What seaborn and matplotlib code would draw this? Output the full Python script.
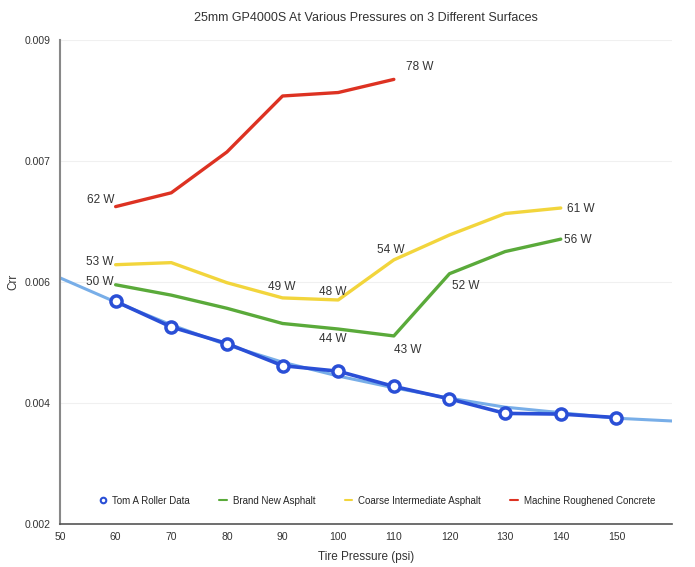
import pandas as pd
import matplotlib.pyplot as plt
import seaborn as sns
from matplotlib.lines import Line2D

# data
psi_roller = [60, 70, 80, 90, 100, 110, 120, 130, 140, 150]
crr_roller = [0.00522, 0.00485, 0.00461, 0.00429, 0.00421, 0.00399, 0.00381, 0.00360, 0.00359, 0.00354]

psi_trend = [50, 60, 70, 80, 90, 100, 110, 120, 130, 140, 150, 160]
crr_trend = [0.00556, 0.00521, 0.00488, 0.00459, 0.00434, 0.00414, 0.00397, 0.00382, 0.00369, 0.00361, 0.00353, 0.00349]

psi_road = [60, 70, 80, 90, 100, 110, 120, 130, 140]
crr_new = [0.00546, 0.00531, 0.00512, 0.00490, 0.00482, 0.00472, 0.00562, 0.00594, 0.00612]
crr_coarse = [0.00575, 0.00578, 0.00549, 0.00527, 0.00524, 0.00582, 0.00618, 0.00649, 0.00657]

psi_concrete = [60, 70, 80, 90, 100, 110]
crr_concrete = [0.00659, 0.00679, 0.00738, 0.00819, 0.00824, 0.00843]

# watt labels (text, x, y)
watt_labels = ["62 W", "78 W", "53 W", "50 W", "49 W", "48 W", "44 W", "43 W", "54 W", "52 W", "61 W", "56 W"]
watt_x = [57.4, 114.6, 57.2, 57.2, 89.9, 99.0, 99.0, 112.5, 109.4, 122.9, 143.6, 143.0]
watt_y = [0.00669, 0.00861, 0.00579, 0.00550, 0.00543, 0.00536, 0.00468, 0.00452, 0.00596, 0.00544, 0.00656, 0.00611]

series_names = ["Tom A Roller Data", "Brand New Asphalt", "Coarse Intermediate Asphalt", "Machine Roughened Concrete"]
colors = ["#2a4fd6", "#5aaa3a", "#f2d53c", "#dd3222"]

sns.set_style("white")
plt.rcParams['font.family'] = ['Liberation Sans', 'DejaVu Sans']

fig = plt.figure(figsize=(6.95, 5.67), dpi=100)
ax = fig.add_axes([0.0863, 0.0758, 0.8807, 0.8537])

ax.yaxis.grid(True, color="#f0f0f0", lw=0.8)
ax.set_axisbelow(True)

sns.lineplot(x=psi_trend, y=crr_trend, color="#78aee8", lw=2.2, ax=ax)
sns.lineplot(x=psi_roller, y=crr_roller, color=colors[0], lw=2.6, marker="o", markersize=8,
             markerfacecolor="white", markeredgecolor=colors[0], markeredgewidth=2.5, ax=ax)
sns.lineplot(x=psi_road, y=crr_new, color=colors[1], lw=2.4, ax=ax)
sns.lineplot(x=psi_road, y=crr_coarse, color=colors[2], lw=2.4, ax=ax)
sns.lineplot(x=psi_concrete, y=crr_concrete, color=colors[3], lw=2.4, ax=ax)

for t, x, y in zip(watt_labels, watt_x, watt_y):
    ax.text(x, y, t, ha="center", va="center", fontsize=8.5, color="#333333")

ax.set_xlim(50, 160)
ax.set_ylim(0.002, 0.009)
ax.set_xticks(range(50, 160, 10))
ax.set_xticklabels([str(v) for v in range(50, 160, 10)], fontsize=7.5, color="#333333")
yt = [0.002, 0.00375, 0.0055, 0.00725, 0.009]
ax.set_yticks(yt)
ax.set_yticklabels(["0.002", "0.004", "0.006", "0.007", "0.009"], fontsize=7.5, color="#333333")
ax.tick_params(axis="y", length=0, pad=7)
ax.tick_params(axis="x", length=0, pad=6)

ax.set_title("25mm GP4000S At Various Pressures on 3 Different Surfaces", fontsize=9, color="#333333", pad=14)
ax.set_xlabel("Tire Pressure (psi)", fontsize=8.5, color="#333333", labelpad=6)
ax.set_ylabel("Crr", fontsize=8.5, color="#333333")
ax.yaxis.set_label_coords(-0.066, 0.5)

sns.despine(ax=ax)
ax.spines["left"].set_color("#888888")
ax.spines["left"].set_linewidth(1.5)
ax.spines["bottom"].set_color("#555555")
ax.spines["bottom"].set_linewidth(1.2)

handles = [Line2D([], [], color=colors[0], marker="o", ls="none", markersize=4,
                  markerfacecolor="white", markeredgewidth=1.5)]
handles += [Line2D([], [], color=c, lw=1.5) for c in colors[1:]]
ax.legend(handles, series_names, loc="lower center", bbox_to_anchor=(0.518, 0.02), ncol=4,
          frameon=False, fontsize=7, handlelength=0.8, columnspacing=3.0, handletextpad=0.6)

fig.savefig("out.png", dpi=100)
